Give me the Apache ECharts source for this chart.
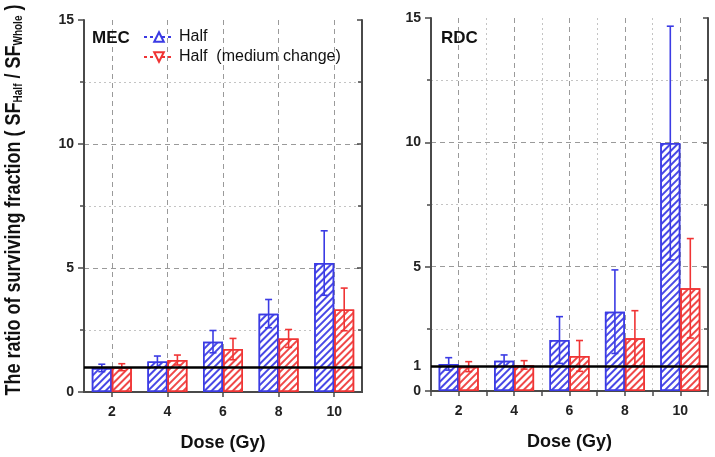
<!DOCTYPE html>
<html><head><meta charset="utf-8">
<script src="https://cdn.jsdelivr.net/npm/echarts@6/dist/echarts.min.js"></script>
<style>html,body{margin:0;padding:0;background:#fff}#c{width:715px;height:457px}</style>
</head><body><div id="c"></div>
<script>
const doses = ['2', '4', '6', '8', '10'];
const mecHalf = [0.97, 1.23, 2.03, 3.16, 5.2];
const mecHalfErr = [0.15, 0.22, 0.45, 0.57, 1.3];
const mecMedium = [1.0, 1.29, 1.73, 2.16, 3.33];
const mecMediumErr = [0.14, 0.2, 0.43, 0.36, 0.86];
const rdcHalf = [1.09, 1.22, 2.05, 3.19, 9.97];
const rdcHalfErr = [0.25, 0.23, 0.94, 1.68, 4.7];
const rdcMedium = [0.98, 1.05, 1.41, 2.12, 4.13];
const rdcMediumErr = [0.2, 0.17, 0.62, 1.11, 2.0];
const leftYTicks = [0, 5, 10, 15];
const rightYTicks = [0, 1, 5, 10, 15];
const seriesNames = ['Half', 'Half  (medium change)'];
const panelNames = ['MEC', 'RDC'];
const yTitle = 'The ratio of surviving fraction ( SF{sub|Half} / SF{sub|Whole} )';

const FONT = '"Liberation Sans", Arial, sans-serif';
const BLUE = '#3b3be4', RED = '#f03434';
const HBLUE = '#4848e6', HRED = '#f04848';
const FRAME = '#4a4a4a';

function hatch(c) {
  return { symbol: 'rect', symbolSize: 1, dashArrayX: [1, 0], dashArrayY: [1.2, 2.4], rotation: -Math.PI / 4, color: c };
}
function barSeries(name, xi, yi, vals, color, hc, mark) {
  const s = {
    type: 'bar', name: name + '_bar', xAxisIndex: xi, yAxisIndex: yi, data: vals,
    barWidth: 20, barGap: '0%', z: 2,
    itemStyle: { color: '#fff', borderColor: color, borderWidth: 1.5, decal: hatch(hc) }
  };
  if (mark) s.markLine = { silent: true, symbol: 'none', z: 6, label: { show: false },
    lineStyle: { color: '#000', width: 2.5, type: 'solid' }, data: [{ yAxis: 1 }] };
  return s;
}
function errSeries(xi, yi, vals, errs, color, off) {
  return {
    type: 'custom', xAxisIndex: xi, yAxisIndex: yi, z: 5, silent: true,
    data: vals.map((v, i) => [i, v - errs[i], v + errs[i]]),
    renderItem(params, api) {
      const lo = api.coord([api.value(0), api.value(1)]);
      const hi = api.coord([api.value(0), api.value(2)]);
      const x = lo[0] + off, cw = 3.5;
      const st = { stroke: color, lineWidth: 1.6 };
      return { type: 'group', children: [
        { type: 'line', shape: { x1: x, y1: lo[1], x2: x, y2: hi[1] }, style: st },
        { type: 'line', shape: { x1: x - cw, y1: hi[1], x2: x + cw, y2: hi[1] }, style: st },
        { type: 'line', shape: { x1: x - cw, y1: lo[1], x2: x + cw, y2: lo[1] }, style: st }
      ] };
    }
  };
}
function catAxis(g) {
  return {
    type: 'category', gridIndex: g, position: 'bottom', data: doses,
    axisLine: { show: true, lineStyle: { color: FRAME, width: 2 } },
    axisTick: { show: true, alignWithLabel: true, length: 5, lineStyle: { color: FRAME, width: 1.5 } },
    axisLabel: { fontFamily: FONT, fontSize: 14, fontWeight: 'bold', color: '#222', margin: 13 },
    splitLine: { show: false },
    name: 'Dose (Gy)', nameLocation: 'middle', nameGap: 42,
    nameTextStyle: { fontFamily: FONT, fontSize: 18, fontWeight: 'bold', color: '#111' }
  };
}
function topAxis(g, minorVert) {
  return {
    type: 'value', gridIndex: g, position: 'top', min: 1, max: 11, interval: 2,
    axisLine: { show: true, lineStyle: { color: FRAME, width: 2 } },
    axisTick: { show: g === 1, inside: true, length: 5, lineStyle: { color: FRAME, width: 1.5 } },
    minorTick: { show: g === 1, splitNumber: 2, length: 5, lineStyle: { color: FRAME, width: 1.5 } },
    axisLabel: { show: false },
    splitLine: { show: minorVert, showMinLine: false, showMaxLine: false, lineStyle: { color: '#c4c4c4', type: [2, 3], width: 1 } },
    minorSplitLine: { show: true, lineStyle: { color: '#9a9a9a', type: [5, 4], width: 1 } }
  };
}
function leftY(g, labels) {
  return {
    type: 'value', gridIndex: g, position: 'left', min: 0, max: 15, interval: 5,
    axisLine: { show: true, lineStyle: { color: FRAME, width: 2 } },
    axisTick: { show: true, length: 6, lineStyle: { color: FRAME, width: 1.5 } },
    minorTick: { show: true, splitNumber: 2, length: 4, lineStyle: { color: FRAME, width: 1.5 } },
    axisLabel: { fontFamily: FONT, fontSize: 14, fontWeight: 'bold', color: '#222', margin: 10, customValues: labels },
    splitLine: { show: true, showMinLine: false, showMaxLine: false, lineStyle: { color: '#9a9a9a', type: [5, 4], width: 1 } },
    minorSplitLine: { show: true, lineStyle: { color: '#c4c4c4', type: [2, 3], width: 1 } }
  };
}
function rightY(g) {
  return {
    type: 'value', gridIndex: g, position: 'right', min: 0, max: 15, interval: 5,
    axisLine: { show: true, lineStyle: { color: FRAME, width: 2 } },
    axisTick: { show: true, inside: true, length: 5, lineStyle: { color: FRAME, width: 1.5 } },
    minorTick: { show: true, splitNumber: 2, length: 4, lineStyle: { color: FRAME, width: 1.5 } },
    axisLabel: { show: false }, splitLine: { show: false }
  };
}

const chart = echarts.init(document.getElementById('c'));
chart.setOption({
  animation: false,
  backgroundColor: '#fff',
  textStyle: { fontFamily: FONT },
  grid: [
    { left: 84, right: 353, top: 20, bottom: 64 },
    { left: 431, right: 7, top: 18, bottom: 66 }
  ],
  title: [
    { text: panelNames[0], left: 92, top: 30, padding: 0, textStyle: { fontFamily: FONT, fontSize: 17, fontWeight: 'bold', color: '#111' } },
    { text: panelNames[1], left: 441, top: 30, padding: 0, textStyle: { fontFamily: FONT, fontSize: 17, fontWeight: 'bold', color: '#111' } }
  ],
  graphic: [{
    type: 'text', x: 14, y: 200, rotation: Math.PI / 2, scaleY: 1.2,
    style: {
      text: yTitle, fontFamily: FONT, fontSize: 18, fontWeight: 'bold', fill: '#111',
      align: 'center', verticalAlign: 'middle',
      rich: { sub: { fontFamily: FONT, fontSize: 10, fontWeight: 'bold', fill: '#111', verticalAlign: 'bottom', padding: [7, 0, 0, 0] } }
    }
  }],
  legend: {
    left: 143, top: 29, orient: 'vertical', padding: 0, itemGap: 4, itemWidth: 30, itemHeight: 12,
    textStyle: { fontFamily: FONT, fontSize: 16, color: '#111' },
    data: seriesNames
  },
  xAxis: [catAxis(0), topAxis(0, false), catAxis(1), topAxis(1, true)],
  yAxis: [leftY(0, leftYTicks), rightY(0), leftY(1, rightYTicks), rightY(1)],
  series: [
    { type: 'line', name: seriesNames[0], xAxisIndex: 0, yAxisIndex: 0, data: [], symbol: 'emptyTriangle', symbolSize: 9,
      lineStyle: { type: [3, 3], color: BLUE, width: 1.5 }, itemStyle: { color: BLUE } },
    { type: 'line', name: seriesNames[1], xAxisIndex: 0, yAxisIndex: 0, data: [], symbol: 'emptyTriangle', symbolSize: 9, symbolRotate: 180,
      lineStyle: { type: [3, 3], color: RED, width: 1.5 }, itemStyle: { color: RED } },
    barSeries('mecHalf', 0, 0, mecHalf, BLUE, HBLUE, false),
    barSeries('mecMedium', 0, 0, mecMedium, RED, HRED, true),
    errSeries(0, 0, mecHalf, mecHalfErr, BLUE, -10),
    errSeries(0, 0, mecMedium, mecMediumErr, RED, 10),
    barSeries('rdcHalf', 2, 2, rdcHalf, BLUE, HBLUE, false),
    barSeries('rdcMedium', 2, 2, rdcMedium, RED, HRED, true),
    errSeries(2, 2, rdcHalf, rdcHalfErr, BLUE, -10),
    errSeries(2, 2, rdcMedium, rdcMediumErr, RED, 10)
  ]
});
</script></body></html>
